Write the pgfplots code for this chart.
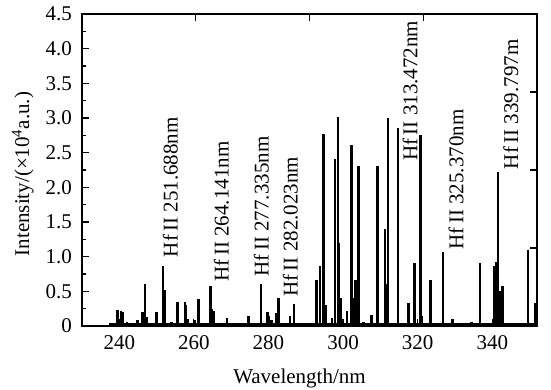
\documentclass[border=0pt]{standalone}
\usepackage{fontspec}
\setmainfont{Liberation Serif}
\usepackage{pgfplots}
\pgfplotsset{compat=1.18}
\begin{document}
\fontsize{21}{25}\selectfont
\begin{tikzpicture}
\begin{axis}[
  width=455pt, height=312pt, scale only axis,
  xmin=230, xmax=352, ymin=0, ymax=4.5,
  xtick={240,260,280,300,320,340},
  ytick={0,0.5,1,1.5,2,2.5,3,3.5,4,4.5},
  yticklabels={0,0.5,1.0,1.5,2.0,2.5,3.0,3.5,4.0,4.5},
  minor y tick num=1,
  tick align=inside, xtick pos=bottom, ytick pos=left,
  major tick length=7pt, minor tick length=4pt,
  axis line style={line width=1.7pt},
  every tick/.style={black, line width=1.2pt},
  /pgf/number format/assume math mode=true,
  yticklabel style={xshift=-3pt},
  xticklabel style={yshift=-2pt},
  xlabel={Wavelength/nm},
  xlabel style={at={(axis description cs:0.478,0)}, anchor=center, yshift=-52pt},
  ylabel={Intensity/(×10\textsuperscript{4}a.u.)},
  ylabel style={at={(axis description cs:-0.13,0.487)}, anchor=center},
  clip=true,
]
\addplot[black, line width=2.2pt] coordinates {(237.3,0.03) (352,0.03)};
\addplot[ycomb, black, line width=2.5pt] coordinates {
(239.5,0.23) (240.4,0.21) (240.9,0.20) (242.0,0.06) (243.5,0.05) (244.9,0.08)
(246.2,0.20) (246.9,0.61) (247.3,0.13) (248.5,0.05) (250.0,0.20) (251.7,0.87) (252.3,0.52)
(254.0,0.06) (255.6,0.35) (257.6,0.35) (257.9,0.30) (258.3,0.10) (260.3,0.08)
(261.2,0.39) (262.2,0.05) (263.0,0.05) (264.5,0.58) (264.9,0.25) (265.2,0.22)
(266.5,0.04) (268.9,0.12) (271.0,0.04) (274.6,0.14) (278.0,0.60) (279.8,0.20)
(280.2,0.15) (280.8,0.08) (282.1,0.19) (282.7,0.41) (284.0,0.04) (285.8,0.14)
(286.9,0.32) (288.5,0.05) (290.0,0.04) (292.9,0.67) (293.8,0.86) (294.8,2.77)
(295.3,0.30) (297.0,0.12) (297.8,2.41) (298.6,3.01) (298.9,1.20) (299.3,0.40)
(301.0,0.22) (302.2,2.61) (303.0,0.40) (303.4,0.67) (304.1,2.31) (305.5,0.06)
(307.6,0.16) (309.2,2.31) (311.3,1.40) (311.6,0.60) (312.1,3.00) (314.7,2.86)
(316.0,0.05) (317.5,0.33) (319.1,0.91) (320.7,2.76) (321.1,0.15) (323.4,0.67)
(326.8,1.07) (329.3,0.10) (331.0,0.05) (333.0,0.05) (334.5,0.06) (336.7,0.91)
(340.5,0.86) (341.1,0.93) (341.6,2.22) (342.1,0.50) (342.8,0.57) (345.5,0.04)
(349.6,1.10) (351.5,0.33)
};
\node[rotate=90, anchor=west, inner sep=0] at (axis cs:253.7,0.99) {Hf\,II 251.688nm};
\node[rotate=90, anchor=west, inner sep=0] at (axis cs:267.4,0.64) {Hf\,II 264.141nm};
\node[rotate=90, anchor=west, inner sep=0] at (axis cs:278.1,0.71) {Hf\,II 277.335nm};
\node[rotate=90, anchor=west, inner sep=0] at (axis cs:285.9,0.42) {Hf\,II 282.023nm};
\node[rotate=90, anchor=west, inner sep=0] at (axis cs:318.0,2.38) {Hf\,II 313.472nm};
\node[rotate=90, anchor=west, inner sep=0] at (axis cs:330.3,1.10) {Hf\,II 325.370nm};
\node[rotate=90, anchor=west, inner sep=0] at (axis cs:345.0,2.26) {Hf\,II 339.797m};
\end{axis}
\begin{axis}[
  width=455pt, height=312pt, scale only axis,
  xmin=0, xmax=4, ymin=0, ymax=4,
  xtick={1,2,3}, ytick={1,2,3},
  xtick pos=top, ytick pos=right, tick align=inside,
  major tick length=7pt,
  every tick/.style={black, line width=1.2pt},
  xticklabels={}, yticklabels={},
  axis line style={line width=1.7pt},
]
\end{axis}
\pgfresetboundingbox
\path ([shift={(-82pt,-64pt)}]current axis.south west) rectangle ([shift={(14pt,14pt)}]current axis.north east);
\end{tikzpicture}
\end{document}
